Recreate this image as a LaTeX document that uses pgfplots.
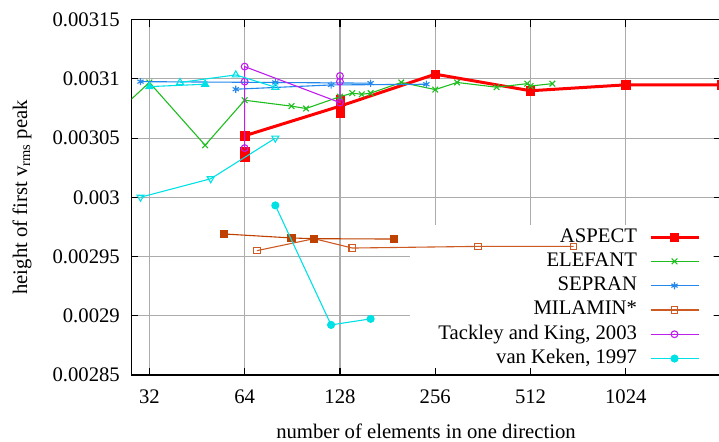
\documentclass[border=0pt]{standalone}
\usepackage{fontspec}
\setmainfont{Liberation Serif}
\usepackage{pgfplots}
\pgfplotsset{compat=1.18}
\definecolor{cAspect}{RGB}{255,0,0}
\definecolor{cElefant}{RGB}{30,190,30}
\definecolor{cSepran}{RGB}{35,135,235}
\definecolor{cMilOpen}{RGB}{205,90,35}
\definecolor{cMilFill}{RGB}{190,65,0}
\definecolor{cTackley}{RGB}{190,30,235}
\definecolor{cKeken}{RGB}{0,225,230}
\definecolor{gridgray}{RGB}{172,172,172}
\pgfdeclareplotmark{odot}{%
  \pgfpathcircle{\pgfpoint{0pt}{0pt}}{\pgfplotmarksize}\pgfusepathqstroke
  \pgfpathcircle{\pgfpoint{0pt}{0pt}}{0.7pt}\pgfusepathqfill}
\begin{document}
\fontsize{20.7bp}{24.8bp}\selectfont
\begin{tikzpicture}
\useasboundingbox (0,0) rectangle (719bp,442bp);
\begin{axis}[
  at={(131.5bp,67bp)}, anchor=south west,
  width=589.6bp, height=355.3bp, scale only axis,
  xmode=log, log basis x=2, xmin=28.1, xmax=2048,
  ymin=0.00285, ymax=0.00315,
  xtick={32,64,128,256,512,1024},
  xticklabels={32,64,128,256,512,1024},
  ytick={0.00285,0.0029,0.00295,0.003,0.00305,0.0031,0.00315},
  yticklabels={0.00285,0.0029,0.00295,0.003,0.00305,0.0031,0.00315},
  scaled y ticks=false, xminorticks=false, yminorticks=false,
  /pgf/number format/assume math mode=true,
  grid=major, major grid style={color=gridgray, line width=1.1bp},
  tick style={black, line width=1.1bp}, major tick length=7bp,
  tick align=inside,
  axis line style={black, line width=1.3bp},
  yticklabel style={anchor=east, inner sep=0pt, xshift=-11.5bp},
  xticklabel style={anchor=north, inner sep=0pt, yshift=-15bp},
  clip marker paths=true,
  legend plot pos=right,
  legend cell align=right,
  legend image code/.code={\draw[mark repeat=2,mark phase=2] plot coordinates {(0bp,0bp)(24bp,0bp)(48bp,0bp)};},
  legend style={draw=none, fill=none, inner sep=0pt, outer sep=0pt,
     at={(axis description cs:0.9642,0.0121)}, anchor=south east,
     nodes={inner xsep=0pt, inner ysep=2.15bp, text height=15bp, text depth=5bp},
     column sep=12bp},
]
\fill[white] (axis cs:213,0.0029769) rectangle (axis cs:1929,0.0028563);

% ASPECT
\addplot[cAspect, line width=3bp, mark=square*, mark size=4.2bp, mark options={solid, line width=0.5bp}] coordinates {
(64,0.003052) (128,0.003077) (256,0.003104) (512,0.003090) (1024,0.003095) (2048,0.003095)};
\addlegendentry{ASPECT}
\addplot[cAspect, only marks, mark=square*, mark size=4.2bp, mark options={line width=0.5bp}, forget plot] coordinates {
(64,0.003039) (64,0.003034) (128,0.003083) (128,0.003071)};

% ELEFANT
\addplot[cElefant, line width=1.1bp, mark=x, mark size=4bp] coordinates {
(24,0.003066) (32,0.003097) (48,0.003044) (64,0.003082) (90,0.003077) (100,0.003075)
(128,0.003085) (140,0.003088) (150,0.003087) (160,0.003088) (200,0.003097) (256,0.003091)
(300,0.003097) (400,0.003093) (500,0.003096) (512,0.003094) (600,0.003096)};
\addlegendentry{ELEFANT}

% SEPRAN
\addplot[cSepran, line width=1.1bp, mark=asterisk, mark size=3.6bp] coordinates {
(30,0.0030977) (80,0.0030970) (160,0.0030964)};
\addlegendentry{SEPRAN}
\addplot[cSepran, line width=1.1bp, mark=asterisk, mark size=3.6bp, forget plot] coordinates {
(60,0.0030913) (120,0.0030949) (240,0.0030955)};

% MILAMIN*
\addplot[cMilOpen, line width=1.1bp, mark=square, mark size=3.3bp] coordinates {
(70,0.0029550) (106,0.0029651) (140,0.0029572) (350,0.0029586) (700,0.0029586)};
\addlegendentry{MILAMIN*}
\addplot[cMilFill, line width=1.1bp, mark=square*, mark size=3.5bp, forget plot] coordinates {
(55,0.0029691) (90,0.0029657) (106,0.0029651) (190,0.0029648)};

% Tackley and King
\addplot[cTackley, line width=1.1bp, mark=odot, mark size=3.4bp] coordinates {
(64,0.0030416) (64,0.0030977) (64,0.0031104) (128,0.0030800) (128,0.0030977) (128,0.0031025)};
\addlegendentry{Tackley and King, 2003}

% van Keken
\addplot[cKeken, line width=1.1bp, mark=*, mark size=3.5bp] coordinates {
(80,0.0029932) (120,0.0028923) (160,0.0028974)};
\addlegendentry{van Keken, 1997}
\addplot[cKeken, line width=1.1bp, mark=triangle*, mark size=4bp, forget plot] coordinates {
(32,0.0030935) (48,0.0030955)};
\addplot[cKeken, line width=1.1bp, mark=triangle, mark size=4bp, forget plot] coordinates {
(40,0.0030970) (60,0.0031034) (80,0.0030930)};
\addplot[cKeken, line width=1.1bp, mark=triangle, mark size=4bp, mark options={rotate=180}, forget plot] coordinates {
(30,0.0030001) (50,0.0030157) (80,0.0030500)};
\end{axis}
\node[rotate=90, anchor=base, inner sep=0pt] at (27bp,244.7bp) {height of first v\textsubscript{rms} peak};
\node[anchor=base, inner sep=0pt] at (426bp,3.5bp) {number of elements in one direction};
\end{tikzpicture}
\end{document}
